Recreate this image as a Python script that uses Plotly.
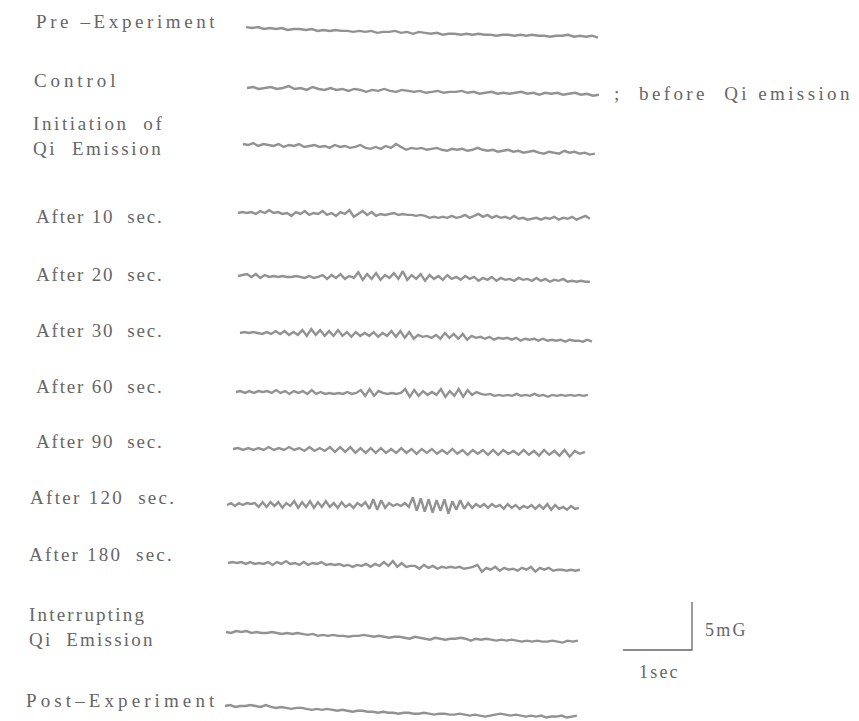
import numpy as np
import plotly.graph_objects as go

# ---- data: magnetic field traces (mG, relative to each row's start level) ----
labels = ["Pre \u2013Experiment", "Control", "Initiation  of<br>Qi  Emission",
          "After 10  sec.", "After 20  sec.", "After 30  sec.", "After 60  sec.",
          "After 90  sec.", "After 120  sec.", "After 180  sec.",
          "Interrupting<br>Qi  Emission", "Post\u2013Experiment"]

pre = [0.2,0.1,0.2,0.0,0.1,0.0,0.1,-0.1,0.0,0.0,-0.1,0.0,-0.2,-0.1,-0.2,-0.1,-0.2,-0.2,-0.3,-0.2,-0.3,-0.2,-0.4,-0.3,-0.3,-0.2,-0.4,-0.3,-0.5,-0.3,-0.4,-0.5,-0.4,-0.6,-0.5,-0.5,-0.6,-0.5,-0.6,-0.5,-0.6,-0.6,-0.7,-0.6,-0.6,-0.7,-0.6,-0.7,-0.6,-0.7,-0.7,-0.8,-0.7,-0.7,-0.6,-0.8,-0.7,-0.8,-0.7,-0.9]
ctrl = [0.0,0.1,-0.1,0.0,0.1,-0.1,0.0,0.2,-0.1,0.0,-0.2,0.1,-0.1,-0.2,0.0,-0.2,-0.1,-0.3,-0.1,-0.2,-0.4,-0.2,-0.3,-0.1,-0.3,-0.4,-0.2,-0.3,-0.4,-0.3,-0.5,-0.4,-0.3,-0.5,-0.4,-0.4,-0.3,-0.5,-0.4,-0.6,-0.5,-0.4,-0.6,-0.5,-0.6,-0.5,-0.4,-0.6,-0.5,-0.7,-0.5,-0.6,-0.5,-0.7,-0.6,-0.5,-0.7,-0.6,-0.8,-0.7]
init = [0.1,0.0,0.2,-0.1,0.1,0.0,-0.1,0.1,-0.2,0.0,-0.1,0.1,-0.2,-0.1,0.0,-0.2,-0.1,-0.3,0.0,-0.2,-0.1,-0.3,-0.2,0.0,-0.3,-0.4,-0.2,-0.4,-0.1,-0.3,0.1,-0.2,-0.5,-0.3,-0.4,-0.3,-0.5,-0.4,-0.3,-0.5,-0.6,-0.4,-0.5,-0.4,-0.6,-0.5,-0.3,-0.5,-0.6,-0.5,-0.7,-0.6,-0.5,-0.7,-0.6,-0.8,-0.7,-0.6,-0.8,-0.9,-0.7,-0.8,-0.9,-0.6,-0.8,-0.7,-0.9,-0.8,-1.0,-0.9]
a10 = [0.0,0.1,0.0,0.1,-0.1,0.2,0.0,0.3,0.0,0.1,-0.1,0.0,-0.3,0.1,-0.1,0.2,-0.2,0.0,-0.1,0.2,-0.2,0.0,-0.3,0.1,-0.1,0.3,-0.4,-0.1,0.2,-0.2,0.1,-0.3,-0.1,-0.2,-0.1,0.0,-0.2,-0.1,-0.2,-0.2,-0.3,-0.2,-0.3,-0.5,-0.4,-0.5,-0.4,-0.5,-0.3,-0.5,-0.4,-0.2,-0.5,-0.3,-0.1,-0.4,-0.2,-0.5,-0.3,-0.5,-0.4,-0.6,-0.3,-0.6,-0.5,-0.7,-0.6,-0.5,-0.7,-0.5,-0.6,-0.4,-0.7,-0.5,-0.6,-0.4,-0.7,-0.5,-0.3,-0.6]
a20 = [0.0,0.1,0.2,-0.1,0.2,-0.2,0.1,-0.1,0.0,-0.1,0.0,-0.1,-0.1,0.0,-0.1,-0.2,0.0,-0.2,-0.1,0.1,-0.3,0.1,-0.2,0.2,-0.3,0.0,-0.2,0.4,-0.4,0.2,-0.3,0.3,-0.4,0.1,-0.2,0.3,-0.3,0.5,-0.4,0.1,-0.3,0.2,-0.5,0.1,-0.3,0.0,-0.4,0.1,-0.3,-0.1,-0.4,0.0,-0.3,-0.1,-0.5,-0.2,-0.4,-0.1,-0.5,-0.2,-0.4,-0.3,-0.5,-0.2,-0.4,-0.3,-0.5,-0.2,-0.5,-0.3,-0.6,-0.4,-0.5,-0.3,-0.6,-0.5,-0.6,-0.5,-0.6,-0.6]
a30 = [0.0,0.1,0.0,0.1,0.0,-0.1,0.1,-0.1,0.2,-0.1,0.2,-0.2,0.1,-0.2,0.3,-0.3,0.4,-0.2,0.3,-0.3,0.2,-0.3,0.3,-0.3,0.1,-0.4,0.1,-0.3,0.0,-0.3,0.1,-0.4,0.0,-0.3,0.2,-0.4,0.2,-0.5,0.1,-0.6,-0.2,-0.4,-0.3,-0.5,-0.2,-0.6,0.0,-0.5,-0.1,-0.6,-0.1,-0.7,-0.3,-0.5,-0.4,-0.6,-0.4,-0.7,-0.5,-0.6,-0.5,-0.7,-0.5,-0.8,-0.6,-0.7,-0.6,-0.8,-0.6,-0.8,-0.7,-0.8,-0.7,-0.9,-0.7,-0.8,-0.8,-0.9,-0.7,-0.9]
a60 = [0.0,0.1,-0.1,0.1,-0.1,0.1,0.0,0.1,-0.1,0.2,-0.1,0.1,-0.2,0.1,-0.1,0.1,-0.2,0.2,-0.2,0.0,-0.2,-0.1,-0.2,-0.1,-0.2,0.0,-0.2,-0.1,0.2,-0.4,0.3,-0.4,0.1,-0.1,-0.2,-0.1,-0.2,-0.1,0.3,-0.5,0.2,-0.4,0.1,-0.3,0.0,-0.3,0.3,-0.5,0.1,-0.4,0.3,-0.5,0.2,-0.3,0.0,-0.2,-0.3,-0.2,-0.4,-0.3,-0.4,-0.3,-0.4,-0.2,-0.4,-0.3,-0.4,-0.2,-0.4,-0.3,-0.5,-0.3,-0.4,-0.3,-0.4,-0.3,-0.4,-0.3,-0.4,-0.3]
a90 = [0.0,0.1,-0.1,0.1,-0.1,0.1,-0.1,0.2,-0.1,0.1,-0.1,0.2,-0.1,0.1,-0.2,0.2,-0.2,0.1,-0.2,0.2,-0.3,0.2,-0.3,0.2,-0.4,0.1,-0.4,0.1,-0.4,0.1,-0.4,0.0,-0.4,0.1,-0.4,0.0,-0.5,0.0,-0.4,0.0,-0.5,-0.1,-0.5,0.0,-0.5,-0.1,-0.6,-0.1,-0.5,-0.1,-0.6,-0.1,-0.6,-0.1,-0.5,-0.2,-0.6,-0.1,-0.6,-0.2,-0.7,-0.1,-0.6,-0.2,-0.7,-0.1,-0.8,-0.2,-0.5,-0.3]
a120 = [0.0,0.2,-0.1,0.2,0.0,0.2,0.1,0.2,-0.2,0.3,-0.2,0.3,-0.1,0.3,-0.3,0.2,-0.1,0.4,-0.3,0.3,-0.2,0.4,-0.3,0.3,-0.2,0.4,-0.2,0.2,-0.3,0.3,-0.2,0.1,-0.3,0.2,-0.1,0.3,-0.4,0.6,-0.5,0.5,-0.3,0.2,-0.1,0.1,-0.1,0.2,-0.2,0.8,-0.6,0.7,-0.7,0.6,-0.8,0.5,-0.6,0.6,-0.9,0.4,-0.5,0.5,-0.4,0.2,-0.3,0.1,-0.2,0.1,-0.3,0.1,-0.2,0.0,-0.4,0.1,-0.3,0.0,-0.4,-0.1,-0.3,0.0,-0.4,0.0,-0.4,0.1,-0.5,0.0,-0.4,-0.2,-0.5,-0.1,-0.4,-0.3]
a180 = [0.0,0.1,0.0,0.1,-0.1,0.1,-0.1,0.0,-0.1,0.1,-0.2,0.1,-0.1,0.2,-0.1,0.0,-0.2,0.1,-0.2,0.0,-0.1,0.1,-0.2,-0.1,-0.2,-0.1,-0.3,-0.2,-0.4,-0.2,-0.3,-0.1,-0.4,-0.1,-0.3,0.1,-0.3,0.2,-0.4,0.0,-0.4,-0.3,-0.3,-0.6,-0.2,-0.5,-0.3,-0.6,-0.4,-0.5,-0.4,-0.5,-0.4,-0.6,-0.5,-0.4,-0.2,-0.9,-0.5,-0.7,-0.4,-0.8,-0.5,-0.7,-0.6,-0.8,-0.5,-0.7,-0.4,-0.9,-0.5,-0.7,-0.5,-0.8,-0.7,-0.7,-0.8,-0.7,-0.8,-0.7]
intr = [0.0,-0.1,0.1,0.0,0.1,-0.1,0.0,-0.1,-0.1,0.0,-0.1,-0.2,-0.1,-0.2,-0.1,-0.2,-0.3,-0.2,-0.4,-0.3,-0.4,-0.3,-0.4,-0.4,-0.5,-0.4,-0.4,-0.3,-0.4,-0.5,-0.4,-0.5,-0.6,-0.5,-0.5,-0.6,-0.7,-0.5,-0.6,-0.7,-0.8,-0.6,-0.7,-0.8,-0.7,-0.7,-0.6,-0.7,-0.9,-0.7,-0.8,-0.7,-0.8,-0.9,-0.8,-0.9,-0.8,-0.9,-1.0,-0.9,-1.0,-0.9,-1.0,-1.0,-0.9,-1.0,-1.1,-0.9,-1.0,-0.9]
post = [0.0,0.1,-0.1,0.0,0.0,0.1,0.0,-0.1,0.1,-0.1,-0.2,-0.1,-0.2,-0.3,-0.2,-0.2,-0.3,-0.4,-0.3,-0.4,-0.3,-0.4,-0.5,-0.4,-0.5,-0.6,-0.5,-0.5,-0.6,-0.6,-0.7,-0.6,-0.7,-0.7,-0.8,-0.7,-0.7,-0.8,-0.8,-0.7,-0.8,-0.9,-0.8,-0.8,-0.9,-0.9,-0.8,-0.9,-1.0,-0.9,-1.0,-1.1,-1.0,-0.9,-0.8,-0.9,-1.0,-0.9,-1.0,-1.1,-1.0,-1.1,-1.0,-1.2,-1.1,-1.1,-1.0,-1.2,-1.1,-1.0]

series = [pre, ctrl, init, a10, a20, a30, a60, a90, a120, a180, intr, post]
duration_sec = 5.1          # length of each recording
scale_time = 1.0            # scale bar: 1 sec
scale_field = 5.0           # scale bar: 5 mG

# ---- layout (pixels in the reference picture; page has an 8px body margin) ----
PAGE_W, PAGE_H = 859, 721
OFF = 8
W, H = PAGE_W - OFF, PAGE_H - OFF
PX_SEC = 69.0
PX_MG = 9.6
trace_x0 = [246, 247, 243, 238, 238, 240, 236, 233, 227, 228, 226, 225]
trace_y0 = [29, 88, 145, 213, 276, 333, 392, 449, 505, 563, 632, 706]
label_x = [34, 32, 31, 34, 34, 34, 34, 34, 28, 27, 27, 24]
label_y = [22, 80, 136, 216, 274, 330, 387, 441, 497, 554, 627, 700]
label_track = [3.6, 3.9, 2.6, 1.8, 1.8, 1.8, 1.8, 1.8, 2.3, 2.2, 2.2, 4.1]

FONT = "Liberation Serif"
TXT = "#666666"


def px_x(x):
    return (x - OFF) / W


def px_y(y):
    return 1 - (y - OFF) / H


def spaced(s, track):
    return "<br>".join(f'<span style="letter-spacing:{track}px">{p}</span>'
                       for p in s.split("<br>"))


fig = go.Figure()
for vals, x0, y0 in zip(series, trace_x0, trace_y0):
    v = np.array(vals)
    t = np.linspace(0, duration_sec, len(v))
    fig.add_trace(go.Scatter(
        x=(x0 - OFF) / PX_SEC + t, y=-(y0 - OFF) / PX_MG + v, mode="lines",
        line=dict(color="#929292", width=2.4, shape="linear"),
        hoverinfo="skip", showlegend=False))

# scale bar
cx, cy = (692 - OFF) / PX_SEC, -(650 - OFF) / PX_MG
fig.add_trace(go.Scatter(
    x=[cx - scale_time, cx, cx], y=[cy, cy, cy + scale_field], mode="lines",
    line=dict(color="#666666", width=1.3), hoverinfo="skip", showlegend=False))

ann = []
for lab, lx, ly, tr in zip(labels, label_x, label_y, label_track):
    ann.append(dict(x=px_x(lx), y=px_y(ly), xref="paper", yref="paper", text=spaced(lab, tr),
                    showarrow=False, xanchor="left", yanchor="middle", align="left",
                    font=dict(family=FONT, size=19, color=TXT)))
ann.append(dict(x=px_x(612), y=px_y(93), xref="paper", yref="paper",
                text=spaced(";  before  Qi emission", 3.4), showarrow=False, xanchor="left",
                yanchor="middle", font=dict(family=FONT, size=19, color=TXT)))
ann.append(dict(x=px_x(703), y=px_y(630), xref="paper", yref="paper", text=spaced("5mG", 2.2),
                showarrow=False, xanchor="left", yanchor="middle",
                font=dict(family=FONT, size=18, color=TXT)))
ann.append(dict(x=px_x(637), y=px_y(672), xref="paper", yref="paper", text=spaced("1sec", 2.2),
                showarrow=False, xanchor="left", yanchor="middle",
                font=dict(family=FONT, size=18, color=TXT)))

fig.update_layout(
    width=W, height=H, margin=dict(l=0, r=0, t=0, b=0),
    paper_bgcolor="white", plot_bgcolor="white",
    xaxis=dict(range=[0, W / PX_SEC], visible=False, fixedrange=True),
    yaxis=dict(range=[-H / PX_MG, 0], visible=False, fixedrange=True),
    annotations=ann)

fig.write_html("out.html")
